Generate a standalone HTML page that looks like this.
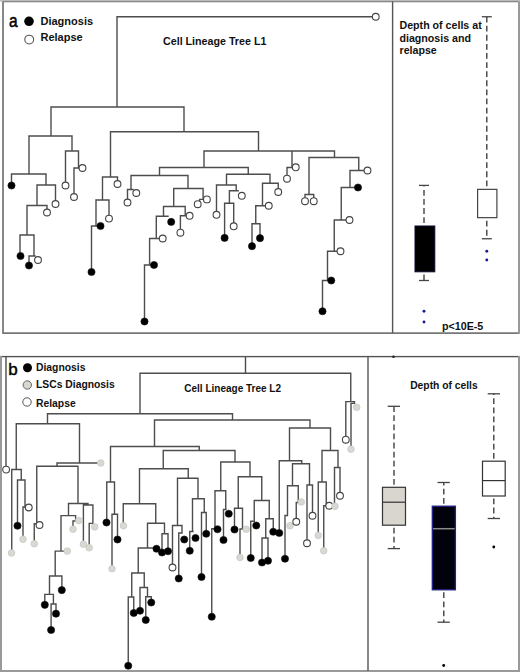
<!DOCTYPE html>
<html><head><meta charset="utf-8"><style>
html,body{margin:0;padding:0;background:#fff;}
body{width:520px;height:672px;overflow:hidden;position:relative;}
svg{position:absolute;left:0;top:0;}
text{font-family:"Liberation Sans",sans-serif;}
.t{stroke:#4d4d4d;stroke-width:1.4;fill:none;stroke-linecap:square;}
.f{fill:#000;stroke:#111;stroke-width:0.6;}
.o{fill:#fff;stroke:#444;stroke-width:1.1;}
.g{fill:#d9d9d4;stroke:#c8c8c4;stroke-width:0.8;}
.ds{stroke:#3a3a3a;stroke-width:1.35;stroke-dasharray:5.8 3.3;stroke-dashoffset:6.6;fill:none;}
.cap{stroke:#444;stroke-width:1.3;}
.b{font-weight:bold;fill:#111;}
</style></head><body>
<svg width="520" height="672" viewBox="0 0 520 672">
<!-- panel a frame -->
<rect x="3" y="1.5" width="515.8" height="331.6" fill="none" stroke="#555" stroke-width="1.4"/>
<line x1="519" y1="0" x2="519" y2="334" stroke="#999" stroke-width="2"/>
<line x1="0" y1="0.7" x2="520" y2="0.7" stroke="#bbb" stroke-width="1.4"/>
<line x1="392.6" y1="1.5" x2="392.6" y2="333" stroke="#555" stroke-width="1.4"/>
<!-- panel a legend -->
<text transform="translate(9.1,26.7) scale(0.84,1)" font-size="18.5" fill="#000" stroke="#000" stroke-width="0.5">a</text>
<circle cx="29" cy="21.3" r="4.8" fill="#000"/>
<circle cx="29.2" cy="39.6" r="4.4" fill="#fff" stroke="#555" stroke-width="1.1"/>
<text x="40.5" y="24.6" font-size="11" class="b">Diagnosis</text>
<text x="40.5" y="40.7" font-size="11" class="b">Relapse</text>
<text x="163" y="44.5" font-size="10.7" class="b">Cell Lineage Tree L1</text>
<!-- panel a tree -->
<path class="t" d="M117 16.75H372M117 16.75V107M51 107H184M51 107V136M184 107V131.75M29 136H72M29 136V174M11.5 174H46M11.5 174V182M46 174V185M37 185H55.5M55.5 185V200.5M37 185V205.5M27 205.5H47M47 205.5V209M27 205.5V235M20 235H34M20 235V252.5M34 235V256M29 256H35M29 256V262M72 136V151M65.5 151H78.5M65.5 151V182M78.5 151V168M74 168H79M74 168V193.5M110.5 131.75H258.5M110.5 131.75V177M102.5 177H117.5M117.5 177V180.5M102.5 177V200M96 200H109M109 200V215M96 200V226M91.5 226H97M91.5 226V268.5M258.5 131.75V151M204 151H334.5M204 151V167.5M159.5 167.5H248.25M159.5 167.5V175.5M131 175.5H188M131 175.5V189.5M127.5 189.5H133M127.5 189.5V199M188 175.5V188.5M173.7 188.5H203.1M203.1 188.5V199.4M199.6 199.4H203.1M199.6 199.4V200.6M173.7 188.5V206.5M163.5 206.5H185.2M185.2 206.5V215.8M180.4 215.8H186M180.4 215.8V229.1M163.5 206.5V216.2M156.3 216.2H168M156.3 216.2V238.5M149.6 238.5H159M149.6 238.5V265M144.5 265H150.5M144.5 265V318M248.25 167.5V174.25M226.5 174.25H270M226.5 174.25V185M216.5 185H236.2M216.5 185V211.2M236.2 185V190.8M229.4 190.8H238.2M229.4 190.8V203.3M224.6 203.3H233.7M224.6 203.3V234.3M233.7 203.3V222.7M270 174.25V183.25M262.5 183.25H278.25M278.25 183.25V188.4M262.5 183.25V205.75M255.75 205.75H265M255.75 205.75V223.75M252 223.75H260M260 223.75V234.6M252 223.75V242.6M292 151V167.5M287 167.5H292M287 167.5V175.1M334.5 151V157.5M309 157.5H358.75M309 157.5V194.5M305 194.5H313.75M305 194.5V197.6M313.75 194.5V197.6M358.75 157.5V170.5M350 170.5H364M350 170.5V187.5M341.25 187.5H354.4M341.25 187.5V220M334.25 220H346M334.25 220V251.25M327.5 251.25H337M327.5 251.25V280.5M322.5 280.5H327.6M322.5 280.5V307.6"/>
<circle cx="375.75" cy="16.75" r="3.4" class="o"/>
<circle cx="11.5" cy="185.5" r="3.6" class="f"/>
<circle cx="55.5" cy="204" r="3.4" class="o"/>
<circle cx="47" cy="212.5" r="3.4" class="o"/>
<circle cx="20.5" cy="256" r="3.6" class="f"/>
<circle cx="29" cy="265.5" r="3.6" class="f"/>
<circle cx="38" cy="260" r="3.4" class="o"/>
<circle cx="65.5" cy="185.5" r="3.4" class="o"/>
<circle cx="82.5" cy="168" r="3.4" class="o"/>
<circle cx="74" cy="197" r="3.4" class="o"/>
<circle cx="117.5" cy="184" r="3.4" class="o"/>
<circle cx="109" cy="218.6" r="3.4" class="o"/>
<circle cx="100.5" cy="226" r="3.6" class="f"/>
<circle cx="91.5" cy="272" r="3.6" class="f"/>
<circle cx="136.3" cy="193" r="3.4" class="o"/>
<circle cx="127.5" cy="202.5" r="3.4" class="o"/>
<circle cx="197.7" cy="204.2" r="3.4" class="o"/>
<circle cx="206.9" cy="199.4" r="3.4" class="o"/>
<circle cx="189.6" cy="215.8" r="3.4" class="o"/>
<circle cx="180.4" cy="232.7" r="3.4" class="o"/>
<circle cx="171.2" cy="221.9" r="3.6" class="f"/>
<circle cx="162.7" cy="238.5" r="3.4" class="o"/>
<circle cx="154" cy="265" r="3.6" class="f"/>
<circle cx="144.5" cy="321.5" r="3.6" class="f"/>
<circle cx="216.5" cy="214.8" r="3.4" class="o"/>
<circle cx="241.8" cy="195.8" r="3.4" class="o"/>
<circle cx="224.6" cy="237.9" r="3.6" class="f"/>
<circle cx="233.7" cy="226.3" r="3.4" class="o"/>
<circle cx="278.25" cy="192" r="3.4" class="o"/>
<circle cx="268.75" cy="205.75" r="3.4" class="o"/>
<circle cx="260" cy="238.2" r="3.6" class="f"/>
<circle cx="252" cy="246.2" r="3.6" class="f"/>
<circle cx="295.75" cy="167.3" r="3.4" class="o"/>
<circle cx="287" cy="178.7" r="3.4" class="o"/>
<circle cx="305" cy="201.2" r="3.4" class="o"/>
<circle cx="313.75" cy="201.2" r="3.4" class="o"/>
<circle cx="367.5" cy="170.5" r="3.4" class="o"/>
<circle cx="358" cy="187.5" r="3.6" class="f"/>
<circle cx="349.5" cy="220" r="3.4" class="o"/>
<circle cx="340.5" cy="251.25" r="3.4" class="o"/>
<circle cx="331.25" cy="280.5" r="3.6" class="f"/>
<circle cx="322.5" cy="311.25" r="3.6" class="f"/>
<!-- panel a boxplots -->
<text font-size="10.65" class="b"><tspan x="399.5" y="29">Depth of cells at</tspan><tspan x="399.5" y="41.5">diagnosis and</tspan><tspan x="399.5" y="54">relapse</tspan></text>
<line x1="424" y1="225.5" x2="424" y2="185.4" class="ds"/>
<line x1="419" y1="185.4" x2="429" y2="185.4" class="cap"/>
<rect x="415" y="226" width="19.8" height="45.8" fill="#000" stroke="#0a0a30" stroke-width="1"/>
<line x1="424" y1="272" x2="424" y2="280.5" class="ds"/>
<line x1="419" y1="280.5" x2="429" y2="280.5" class="cap"/>
<circle cx="424" cy="311.25" r="1.45" fill="#1a1a90"/>
<circle cx="424" cy="322" r="1.45" fill="#1a1a90"/>
<line x1="486.8" y1="188.75" x2="486.8" y2="16.75" class="ds"/>
<line x1="481.8" y1="16.75" x2="491.8" y2="16.75" class="cap"/>
<rect x="477.6" y="189.35" width="19.3" height="28.3" fill="#fff" stroke="#444" stroke-width="1.2"/>
<line x1="486.8" y1="218.25" x2="486.8" y2="238.75" class="ds"/>
<line x1="481.8" y1="238.75" x2="491.8" y2="238.75" class="cap"/>
<circle cx="486.8" cy="251.25" r="1.45" fill="#1a1a90"/>
<circle cx="486.8" cy="260" r="1.45" fill="#1a1a90"/>
<text x="442" y="329.5" font-size="10.7" class="b">p&lt;10E-5</text>

<!-- panel b frame -->
<rect x="1" y="356.6" width="518" height="314.2" fill="none" stroke="#555" stroke-width="1.4"/>
<line x1="1" y1="356" x2="1" y2="672" stroke="#999" stroke-width="2"/>
<line x1="0" y1="671" x2="520" y2="671" stroke="#999" stroke-width="2"/>
<line x1="519" y1="356" x2="519" y2="672" stroke="#999" stroke-width="2"/>
<line x1="368" y1="356.6" x2="368" y2="671" stroke="#555" stroke-width="1.4"/>
<circle cx="393.5" cy="356.8" r="1.3" fill="#222"/>
<!-- panel b legend -->
<text x="8.2" y="374.8" font-size="17" fill="#000" stroke="#000" stroke-width="0.45">b</text>
<circle cx="27.5" cy="367.7" r="4.5" fill="#000"/>
<circle cx="27.3" cy="385" r="4.2" fill="#d8d8d0" stroke="#666" stroke-width="1"/>
<circle cx="27" cy="402" r="4.2" fill="#fff" stroke="#555" stroke-width="1"/>
<text x="36" y="370.5" font-size="10.35" class="b">Diagnosis</text>
<text x="36" y="387.8" font-size="10.35" class="b">LSCs Diagnosis</text>
<text x="36" y="407" font-size="10.35" class="b">Relapse</text>
<text x="184.3" y="391.8" font-size="10" class="b">Cell Lineage Tree L2</text>
<!-- panel b tree -->
<path class="t" d="M6 357V466M245.5 357V373.25M140 373.25H350.75M350.75 373.25V401.6M345.8 401.6H354.5M354.5 401.6V403.4M351 403.4H354.5M351 403.4V445.6M345.8 401.6V436.1M140 373.25V413.75M47.5 413.75H232.5M47.5 413.75V423.75M16.25 423.75H79.5M16.25 423.75V469.5M11.75 469.5H21.25M11.75 469.5V549.4M21.25 469.5V480M17.5 480H25M17.5 480V522.2M25 480V507M23 507H25.5M23 507V535.7M79.5 423.75V463M57 463H97.2M57 463V466.25M36.75 466.25H78M36.75 466.25V523.75M34.25 523.75H36.75M34.25 523.75V540.2M78 466.25V503.5M68.5 503.5H88M88 503.5V505M83.4 505H92.9M83.4 505V540.6M92.9 505V523.4M89.2 523.4H92.9M89.2 523.4V544.1M68.5 503.5V515.6M61 515.6H75.6M75.6 515.6V521M73 521H75.6M73 521V525.6M61 515.6V551.1M55.2 551.1H63.7M55.2 551.1V576M49.5 576H61.9M61.9 576V586.5M49.5 576V594.4M44.8 594.4H53.4M44.8 594.4V601.2M53.4 594.4V604M51.1 604H56M56 604V610M51.1 604V626.4M232.5 413.75V420M154.5 420H310M154.5 420V446.5M110.5 446.5H199.25M110.5 446.5V482M106.75 482H114.5M106.75 482V518.9M114.5 482V514.25M112 514.25H117.5M117.5 514.25V535.9M112 514.25V565.2M199.25 446.5V450.5M163.25 450.5H235M163.25 450.5V468.75M139.5 468.75H188.25M139.5 468.75V503.75M123.25 503.75H155.75M123.25 503.75V522.2M155.75 503.75V523.25M147.5 523.25H164.5M164.5 523.25V533.75M162 533.75H168M162 533.75V548.9M168 533.75V547.7M147.5 523.25V548M138.25 548H153M138.25 548V573M131.75 573H144.25M131.75 573V597M128.25 597H133.75M128.25 597V662.2M133.75 597V609.4M144.25 573V587.5M140 587.5H147.5M140 587.5V607.2M147.5 587.5V596.75M145.75 596.75H151.25M151.25 596.75V598.9M145.75 596.75V616.4M188.25 468.75V478.25M177.5 478.25H198M177.5 478.25V525.5M172.5 525.5H182M172.5 525.5V563.9M182 525.5V533M178.75 533H182M178.75 533V574.9M198 478.25V498.75M192.5 498.75H204.25M192.5 498.75V531.5M189.75 531.5H193M189.75 531.5V547.2M204.25 498.75V512.5M201.5 512.5H206.25M206.25 512.5V530.2M201.5 512.5V573.4M235 450.5V462M220.75 462H250M220.75 462V490.75M215 490.75H225.75M215 490.75V528.75M211.75 528.75H215M211.75 528.75V613.2M225.75 490.75V509.5M223.5 509.5H226M223.5 509.5V536.4M250 462V476.75M238.25 476.75H261.75M238.25 476.75V508.25M234.5 508.25H242.5M234.5 508.25V525.9M242.5 508.25V529M240 529H242.5M240 529V553.9M261.75 476.75V500.5M254.25 500.5H269.25M254.25 500.5V521.25M250.75 521.25H253M250.75 521.25V554.4M269.25 500.5V518.75M265.75 518.75H273.25M273.25 518.75V528.2M265.75 518.75V538M262 538H268M262 538V558.9M268 538V557.2M310 420V428M289.5 428H330.5M289.5 428V460.75M279.25 460.75H301.75M279.25 460.75V529.4M301.75 460.75V463.75M292.5 463.75H309.5M292.5 463.75V485.75M287.5 485.75H298.25M287.5 485.75V515.5M285 515.5H287.5M285 515.5V555.2M298.25 485.75V502.5M296.25 502.5H298.25M296.25 502.5V518.2M309.5 463.75V485M307 485H312.5M307 485V539.7M312.5 485V512.2M330.5 428V450.5M322 450.5H338M322 450.5V482M318.25 482H326.25M318.25 482V531.9M326.25 482V505.75M323.75 505.75H326.25M323.75 505.75V547.2M338 450.5V467.5M334.5 467.5H340M340 467.5V492.2M334.5 467.5V502.7"/>
<circle cx="6.1" cy="469.6" r="3.4" class="o"/>
<circle cx="11.5" cy="553" r="3.3000000000000003" class="g"/>
<circle cx="17.5" cy="525.75" r="3.6" class="f"/>
<circle cx="28.75" cy="507.5" r="3.4" class="o"/>
<circle cx="23" cy="539.25" r="3.3000000000000003" class="g"/>
<circle cx="100.75" cy="463" r="3.3000000000000003" class="g"/>
<circle cx="39.5" cy="525" r="3.4" class="o"/>
<circle cx="34.25" cy="543.75" r="3.3000000000000003" class="g"/>
<circle cx="83.4" cy="544.2" r="3.3000000000000003" class="g"/>
<circle cx="94.75" cy="526.9" r="3.3000000000000003" class="g"/>
<circle cx="89.2" cy="547.7" r="3.3000000000000003" class="g"/>
<circle cx="78.8" cy="520.6" r="3.3000000000000003" class="g"/>
<circle cx="73" cy="529.2" r="3.3000000000000003" class="g"/>
<circle cx="67.3" cy="551.1" r="3.3000000000000003" class="g"/>
<circle cx="61.8" cy="590.1" r="3.6" class="f"/>
<circle cx="44.8" cy="604.8" r="3.6" class="f"/>
<circle cx="56" cy="613.7" r="3.6" class="f"/>
<circle cx="51.1" cy="630" r="3.6" class="f"/>
<circle cx="356.7" cy="407.3" r="3.3000000000000003" class="g"/>
<circle cx="351" cy="449.2" r="3.3000000000000003" class="g"/>
<circle cx="345.8" cy="439.7" r="3.4" class="o"/>
<circle cx="106.5" cy="522.5" r="3.6" class="f"/>
<circle cx="117.5" cy="539.5" r="3.6" class="f"/>
<circle cx="112" cy="568.75" r="3.3000000000000003" class="g"/>
<circle cx="123.5" cy="525.75" r="3.3000000000000003" class="g"/>
<circle cx="162" cy="552.5" r="3.6" class="f"/>
<circle cx="168" cy="551.25" r="3.6" class="f"/>
<circle cx="156.5" cy="548.75" r="3.6" class="f"/>
<circle cx="128.25" cy="665.75" r="3.6" class="f"/>
<circle cx="133.75" cy="613" r="3.6" class="f"/>
<circle cx="140" cy="610.75" r="3.6" class="f"/>
<circle cx="151.25" cy="602.5" r="3.6" class="f"/>
<circle cx="145.75" cy="620" r="3.6" class="f"/>
<circle cx="172.5" cy="567.5" r="3.4" class="o"/>
<circle cx="184.25" cy="539.5" r="3.6" class="f"/>
<circle cx="178.75" cy="578.5" r="3.6" class="f"/>
<circle cx="195.5" cy="538" r="3.6" class="f"/>
<circle cx="189.75" cy="550.75" r="3.6" class="f"/>
<circle cx="206.25" cy="533.75" r="3.6" class="f"/>
<circle cx="201.5" cy="577" r="3.6" class="f"/>
<circle cx="217.5" cy="529.25" r="3.6" class="f"/>
<circle cx="211.75" cy="616.75" r="3.6" class="f"/>
<circle cx="228.75" cy="513.75" r="3.6" class="f"/>
<circle cx="223.5" cy="540" r="3.6" class="f"/>
<circle cx="234.5" cy="529.5" r="3.6" class="f"/>
<circle cx="246.25" cy="529.25" r="3.3000000000000003" class="g"/>
<circle cx="240" cy="557.5" r="3.3000000000000003" class="g"/>
<circle cx="256.25" cy="525.5" r="3.6" class="f"/>
<circle cx="250.75" cy="558" r="3.6" class="f"/>
<circle cx="273.25" cy="531.75" r="3.6" class="f"/>
<circle cx="262" cy="562.5" r="3.6" class="f"/>
<circle cx="268" cy="560.75" r="3.6" class="f"/>
<circle cx="279.25" cy="533" r="3.6" class="f"/>
<circle cx="290" cy="525.75" r="3.3000000000000003" class="g"/>
<circle cx="285" cy="558.75" r="3.6" class="f"/>
<circle cx="301.25" cy="502" r="3.3000000000000003" class="g"/>
<circle cx="296.25" cy="521.75" r="3.4" class="o"/>
<circle cx="307" cy="543.25" r="3.4" class="o"/>
<circle cx="312.5" cy="515.75" r="3.4" class="o"/>
<circle cx="318.25" cy="535.5" r="3.3000000000000003" class="g"/>
<circle cx="329.25" cy="505.75" r="3.4" class="o"/>
<circle cx="323.75" cy="550.75" r="3.3000000000000003" class="g"/>
<circle cx="340" cy="495.75" r="3.4" class="o"/>
<circle cx="335" cy="506.25" r="3.3000000000000003" class="g"/>
<!-- panel b boxplots -->
<text x="410.2" y="389.2" font-size="10.3" class="b">Depth of cells</text>
<line x1="394" y1="487.3" x2="394" y2="406.3" class="ds"/>
<line x1="387.7" y1="406.3" x2="400" y2="406.3" class="cap"/>
<rect x="382.5" y="487.3" width="23" height="37.9" fill="#d8d6ce" stroke="#333" stroke-width="1.2"/>
<line x1="382.5" y1="502.2" x2="405.5" y2="502.2" stroke="#333" stroke-width="1.2"/>
<line x1="394" y1="525.2" x2="394" y2="548.6" class="ds"/>
<line x1="387.7" y1="548.6" x2="400" y2="548.6" class="cap"/>

<line x1="443.8" y1="506.2" x2="443.8" y2="482.5" class="ds"/>
<line x1="437.5" y1="482.5" x2="449.8" y2="482.5" class="cap"/>
<rect x="432.3" y="506.2" width="23.1" height="83.6" fill="#02020c" stroke="#22228a" stroke-width="1.3"/>
<line x1="433" y1="528.7" x2="454.7" y2="528.7" stroke="#8a8a8a" stroke-width="1.5"/>
<line x1="443.8" y1="589.8" x2="443.8" y2="622.2" class="ds"/>
<line x1="437.5" y1="622.2" x2="449.8" y2="622.2" class="cap"/>
<circle cx="443.7" cy="665.5" r="1.4" fill="#000"/>

<line x1="493.8" y1="461.2" x2="493.8" y2="393.8" class="ds"/>
<line x1="487.7" y1="393.8" x2="500" y2="393.8" class="cap"/>
<rect x="482.5" y="461.2" width="22.7" height="34.8" fill="#fff" stroke="#333" stroke-width="1.2"/>
<line x1="482.5" y1="480.6" x2="505.2" y2="480.6" stroke="#333" stroke-width="1.2"/>
<line x1="493.8" y1="496" x2="493.8" y2="518.5" class="ds"/>
<line x1="487.7" y1="518.5" x2="500" y2="518.5" class="cap"/>
<circle cx="493.8" cy="547" r="1.4" fill="#000"/>
</svg>
</body></html>
